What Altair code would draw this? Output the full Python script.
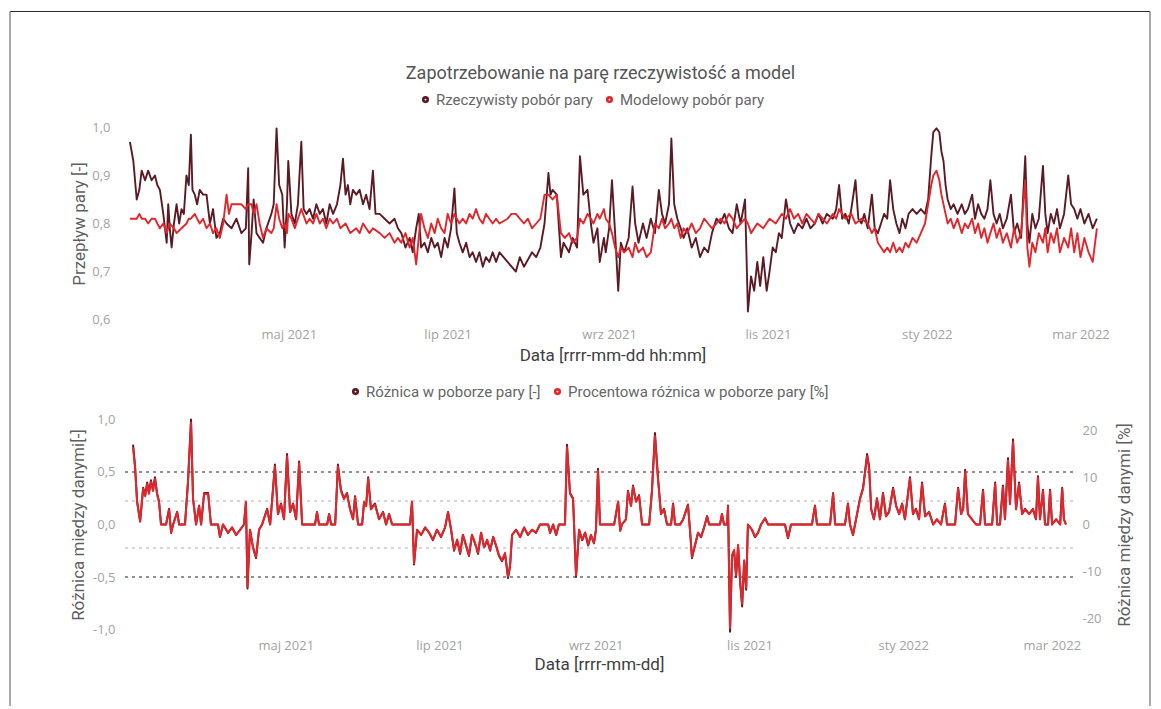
import altair as alt
import pandas as pd

# Time axis: day offsets counted from the first day of the series
START = pd.Timestamp("2021-03-01")

ACT = "Rzeczywisty pobór pary"
MOD = "Modelowy pobór pary"
DIFF = "Różnica w poborze pary [-]"
PCT = "Procentowa różnica w poborze pary [%]"

DARK = "#5c1b24"
RED = "#e3262b"

# ---------------- top panel: measured steam demand ----------------
act_days = [
    0, 1.3, 2.6, 3.6, 4.5, 5.8, 7, 8.3, 9.6, 10.5,
    11.5, 12.8, 14.1, 14.7, 15.3, 16, 16.9, 17.9, 18.9, 19.8,
    20.7, 21.7, 22.6, 23.4, 24, 24.9, 25.8, 26.8, 28.1, 29.4,
    30.7, 31.9, 33.2, 34.5, 35.8, 37.1, 39, 40.9, 42.8, 44.5,
    45.4, 45.8, 46.7, 47.5, 48.6, 49.8, 51.1, 52.4, 54.3, 55.2,
    56.3, 57.3, 58.5, 59.4, 60.3, 60.8, 62, 63.3, 64.5, 65.8,
    66.7, 67.8, 69, 70.3, 71.6, 72.9, 74.1, 75.4, 76.7, 78,
    79.5, 80.8, 81.8, 82.8, 83.7, 84.6, 85.6, 86.9, 88.2, 89.5,
    90.7, 92, 93.3, 94.3, 95.9, 97.8, 99.7, 101.6, 102.9, 104.2,
    105.8, 107.4, 108.6, 109.9, 110.9, 111.8, 113.1, 114.4, 115.7, 117,
    118.2, 119.5, 120.8, 122, 123.3, 124.6, 125.5, 126.5, 127.8, 129.1,
    130.4, 131.6, 132.9, 134.2, 135.5, 136.7, 138, 139.3, 140.6, 141.9,
    145, 148.2, 149.7, 151.3, 154.4, 156, 157.6, 159.2, 160.7, 161.5,
    162.3, 163.9, 165.5, 166.5, 168.6, 170, 171.7, 172.8, 174.1, 175.7,
    177, 178, 179.5, 180.4, 182, 182.7, 184, 185.1, 186.3, 187.5,
    188.5, 189.8, 191.5, 193, 194, 195.3, 197, 198.4, 200, 201.6,
    203.1, 204.3, 205.5, 207, 207.9, 209, 210.2, 211.5, 212.6, 214,
    215.7, 217.3, 218.9, 220.5, 222, 223.5, 225.2, 226.8, 228.3, 230,
    231.4, 233, 234.5, 236.2, 237.3, 238.5, 239.7, 240.9, 242, 243.2,
    244.5, 245.6, 246.8, 248, 249.2, 250.3, 251.9, 253.5, 255, 256.6,
    258.2, 259.8, 261.3, 263, 264.4, 266, 267.6, 269.9, 271.2, 272.3,
    273.5, 274.7, 276, 277, 278.6, 279.7, 280.9, 282, 283.3, 284.9,
    286, 287.2, 288.4, 289.6, 290.8, 291.9, 293.1, 294.3, 295.5, 296.6,
    297.8, 299, 300.5, 302.1, 303.7, 305.3, 306.5, 307.7, 308.5, 309.7,
    310.8, 311.6, 312.4, 313.2, 314, 315.2, 316.3, 317.8, 319.4, 320.6,
    321.8, 323.4, 324.5, 325.7, 326.9, 328.1, 329.3, 330.4, 331.6, 332.8,
    334, 335.2, 336.7, 338.3, 339.5, 340.7, 342.2, 343.8, 344.6, 345.4,
    346.5, 347.7, 349, 350.6, 351.5, 352.4, 353.6, 354.8, 356, 357.1,
    358.7, 360.3, 361.4, 362.6, 363.8, 365, 366.5, 368.1, 369.7, 371.3,
]
act_vals = [
    0.97, 0.93, 0.85, 0.87, 0.91, 0.89, 0.91, 0.89, 0.90, 0.88,
    0.87, 0.82, 0.76, 0.84, 0.79, 0.75, 0.80, 0.84, 0.80, 0.83,
    0.82, 0.90, 0.88, 0.985, 0.87, 0.86, 0.84, 0.87, 0.86, 0.86,
    0.80, 0.83, 0.77, 0.78, 0.81, 0.80, 0.79, 0.81, 0.78, 0.79,
    0.915, 0.715, 0.78, 0.85, 0.78, 0.77, 0.76, 0.79, 0.82, 0.84,
    0.998, 0.88, 0.86, 0.75, 0.84, 0.93, 0.82, 0.80, 0.84, 0.97,
    0.83, 0.82, 0.83, 0.81, 0.84, 0.82, 0.83, 0.80, 0.84, 0.82,
    0.84, 0.88, 0.935, 0.86, 0.88, 0.84, 0.87, 0.86, 0.87, 0.84,
    0.86, 0.83, 0.91, 0.82, 0.82, 0.81, 0.80, 0.81, 0.79, 0.78,
    0.75, 0.77, 0.74, 0.79, 0.82, 0.75, 0.76, 0.74, 0.77, 0.75,
    0.76, 0.73, 0.77, 0.75, 0.79, 0.873, 0.78, 0.76, 0.74, 0.76,
    0.73, 0.74, 0.72, 0.74, 0.71, 0.73, 0.72, 0.74, 0.72, 0.74,
    0.72, 0.70, 0.73, 0.71, 0.74, 0.73, 0.75, 0.80, 0.905, 0.86,
    0.87, 0.86, 0.73, 0.76, 0.74, 0.77, 0.75, 0.94, 0.86, 0.87,
    0.80, 0.76, 0.79, 0.72, 0.77, 0.74, 0.79, 0.89, 0.78, 0.66,
    0.76, 0.74, 0.77, 0.877, 0.80, 0.76, 0.80, 0.77, 0.81, 0.78,
    0.87, 0.82, 0.80, 0.84, 0.977, 0.84, 0.81, 0.79, 0.77, 0.79,
    0.75, 0.77, 0.73, 0.75, 0.74, 0.78, 0.81, 0.80, 0.82, 0.79,
    0.78, 0.84, 0.80, 0.85, 0.617, 0.69, 0.66, 0.72, 0.67, 0.73,
    0.66, 0.70, 0.75, 0.74, 0.78, 0.77, 0.85, 0.80, 0.78, 0.80,
    0.79, 0.81, 0.79, 0.80, 0.82, 0.80, 0.82, 0.81, 0.83, 0.88,
    0.81, 0.82, 0.80, 0.83, 0.89, 0.81, 0.80, 0.82, 0.79, 0.86,
    0.79, 0.78, 0.80, 0.82, 0.81, 0.89, 0.83, 0.80, 0.78, 0.81,
    0.79, 0.82, 0.83, 0.82, 0.83, 0.82, 0.85, 0.94, 0.99, 0.998,
    0.99, 0.95, 0.93, 0.88, 0.85, 0.83, 0.84, 0.82, 0.84, 0.82,
    0.83, 0.86, 0.81, 0.84, 0.82, 0.81, 0.83, 0.89, 0.82, 0.80,
    0.82, 0.79, 0.81, 0.86, 0.78, 0.80, 0.77, 0.94, 0.80, 0.76,
    0.82, 0.79, 0.81, 0.92, 0.82, 0.78, 0.82, 0.80, 0.83, 0.79,
    0.82, 0.90, 0.84, 0.83, 0.81, 0.83, 0.80, 0.82, 0.79, 0.81,
]

# ---------------- top panel: model steam demand ----------------
mod_days = [
    0, 1.3, 2.6, 3.6, 4.5, 5.8, 7, 8.3, 9.6, 10.5,
    11.5, 12.8, 14.1, 15.3, 16.9, 17.9, 19.8, 21.7, 22.6, 23.4,
    24.9, 25.8, 26.8, 28.1, 29.4, 30.7, 31.9, 33.2, 34.5, 35.8,
    37.1, 38, 39, 40.9, 42.8, 44.5, 45.4, 46.7, 47.5, 48.6,
    49.8, 51.1, 52.4, 54.3, 55.2, 56.3, 57.3, 58.5, 59.4, 60.3,
    60.8, 62, 63.3, 64.5, 65.8, 67.8, 69, 70.3, 71.6, 72.9,
    74.1, 75.4, 76.7, 78, 79.5, 80.8, 82.8, 84.6, 86.9, 88.2,
    89.5, 90.7, 92, 93.3, 95.9, 97.8, 99.7, 101.6, 102.9, 104.2,
    105.8, 107.4, 108.6, 109.9, 110.9, 111.8, 113.1, 114.4, 115.7, 117,
    118.2, 119.5, 120.8, 122, 123.3, 124.6, 126.5, 127.8, 129.1, 130.4,
    131.6, 132.9, 134.2, 135.5, 136.7, 138, 139.3, 140.6, 141.9, 145,
    146.5, 148.2, 149.7, 151.3, 152.8, 154.4, 156, 157.6, 159.2, 160.7,
    162.3, 163.9, 165.5, 167, 168.6, 170, 171.7, 172.8, 174.1, 175.7,
    177, 178, 179.5, 180.4, 182, 182.7, 184, 185.1, 186.3, 187.5,
    188.5, 189.8, 191.5, 193, 194, 195.3, 197, 198.4, 200, 201.6,
    203.1, 204.3, 205.5, 207, 207.9, 209, 210.2, 211.5, 212.6, 214,
    215.7, 217.3, 218.9, 220.5, 222, 223.5, 225.2, 226.8, 228.3, 230,
    231.4, 233, 234.5, 236.2, 237.3, 238.5, 240.9, 243.2, 245.6, 248,
    250.3, 251.9, 253.5, 255, 256.6, 258.2, 259.8, 261.3, 263, 264.4,
    266, 267.6, 269.9, 271.2, 272.3, 274.7, 277, 278.6, 280.9, 283.3,
    284.9, 286, 287.2, 288.4, 289.6, 290.8, 291.9, 293.1, 294.3, 295.5,
    296.6, 297.8, 299, 300.5, 302.1, 303.7, 305.3, 306.5, 307.7, 308.5,
    309.7, 310.8, 311.6, 312.4, 313.2, 314, 315.2, 316.3, 317.8, 319.4,
    320.6, 321.8, 323.4, 324.5, 325.7, 326.9, 328.1, 329.3, 330.4, 331.6,
    332.8, 334, 335.2, 336.7, 338.3, 339.5, 340.7, 342.2, 343.8, 344.6,
    345.4, 346.5, 347.7, 349, 350.6, 351.5, 352.4, 353.6, 354.8, 356,
    357.1, 358.7, 360.3, 361.4, 362.6, 363.8, 365, 366.5, 368.1, 369.7,
    371.3,
]
mod_vals = [
    0.81, 0.81, 0.81, 0.82, 0.81, 0.81, 0.80, 0.81, 0.81, 0.80,
    0.79, 0.80, 0.78, 0.80, 0.79, 0.78, 0.79, 0.80, 0.81, 0.81,
    0.82, 0.81, 0.80, 0.81, 0.79, 0.80, 0.78, 0.79, 0.77, 0.80,
    0.86, 0.82, 0.84, 0.84, 0.84, 0.83, 0.84, 0.84, 0.82, 0.84,
    0.80, 0.77, 0.79, 0.78, 0.79, 0.84, 0.81, 0.79, 0.80, 0.78,
    0.82, 0.81, 0.79, 0.81, 0.83, 0.80, 0.81, 0.80, 0.82, 0.80,
    0.81, 0.79, 0.81, 0.80, 0.81, 0.79, 0.80, 0.78, 0.79, 0.78,
    0.80, 0.79, 0.78, 0.79, 0.78, 0.77, 0.78, 0.76, 0.77, 0.76,
    0.78, 0.75, 0.77, 0.715, 0.77, 0.82, 0.79, 0.77, 0.80, 0.78,
    0.81, 0.79, 0.78, 0.82, 0.80, 0.82, 0.80, 0.81, 0.80, 0.82,
    0.81, 0.83, 0.81, 0.80, 0.82, 0.81, 0.80, 0.81, 0.80, 0.81,
    0.82, 0.82, 0.81, 0.80, 0.81, 0.79, 0.80, 0.81, 0.86, 0.86,
    0.85, 0.86, 0.78, 0.77, 0.78, 0.76, 0.77, 0.81, 0.80, 0.82,
    0.81, 0.80, 0.82, 0.81, 0.83, 0.81, 0.80, 0.78, 0.75, 0.73,
    0.75, 0.74, 0.75, 0.73, 0.76, 0.74, 0.75, 0.73, 0.74, 0.80,
    0.79, 0.81, 0.79, 0.80, 0.81, 0.79, 0.80, 0.77, 0.79, 0.78,
    0.80, 0.78, 0.79, 0.81, 0.80, 0.79, 0.80, 0.81, 0.80, 0.82,
    0.81, 0.79, 0.80, 0.81, 0.80, 0.78, 0.80, 0.79, 0.81, 0.80,
    0.82, 0.81, 0.83, 0.81, 0.82, 0.80, 0.82, 0.81, 0.80, 0.82,
    0.81, 0.80, 0.82, 0.81, 0.83, 0.81, 0.82, 0.80, 0.81, 0.80,
    0.78, 0.79, 0.76, 0.75, 0.74, 0.75, 0.74, 0.76, 0.74, 0.75,
    0.74, 0.76, 0.75, 0.77, 0.76, 0.78, 0.80, 0.84, 0.88, 0.90,
    0.91, 0.89, 0.86, 0.84, 0.82, 0.80, 0.81, 0.79, 0.81, 0.78,
    0.80, 0.79, 0.81, 0.78, 0.80, 0.77, 0.79, 0.76, 0.78, 0.80,
    0.77, 0.79, 0.76, 0.78, 0.75, 0.79, 0.76, 0.78, 0.89, 0.75,
    0.71, 0.76, 0.74, 0.78, 0.76, 0.79, 0.74, 0.78, 0.76, 0.79,
    0.74, 0.77, 0.75, 0.79, 0.74, 0.78, 0.73, 0.77, 0.74, 0.72,
    0.79,
]

# ---------------- bottom panel: differences between the series ----------------
diff_days = [
    0.4, 1.2, 2, 3.2, 4.4, 5.2, 6, 6.7, 7.5, 8.3,
    9.1, 9.9, 10.7, 11.5, 13.5, 14.7, 15.5, 16.3, 17.9, 18.7,
    21, 22.2, 23.4, 24.2, 25.4, 26.6, 27.4, 28.6, 30.2, 31.3,
    34.1, 34.9, 36.1, 38.1, 39.7, 41.3, 42.9, 44.4, 45.2, 45.8,
    46.8, 48, 49.2, 50.4, 51.6, 53.6, 54.8, 56.7, 57.9, 59.1,
    60.3, 61.5, 62.7, 63.9, 65.1, 66.3, 67.5, 72.6, 73.4, 74.2,
    77.4, 78.2, 79, 80.6, 81.7, 82.9, 84.1, 85.3, 86.5, 87.7,
    88.5, 89.7, 91.3, 92.1, 92.9, 93.7, 94.8, 96.4, 98, 99.6,
    100.8, 102, 103.2, 110.3, 111.1, 111.9, 113.1, 114.7, 116.3, 117.9,
    119.4, 121, 122.6, 124.2, 125.4, 126.6, 127.8, 129, 130.2, 131.3,
    132.5, 133.7, 134.9, 136.1, 137.3, 138.5, 139.7, 140.9, 142.1, 143.3,
    144.4, 145.6, 146.8, 148, 149.2, 150, 150.8, 152.4, 154, 155.6,
    157.1, 158.7, 160.3, 161.9, 165.1, 165.9, 167.1, 168.3, 169.4, 171.8,
    172.6, 173.8, 175, 176.2, 177.4, 178.6, 179.8, 181, 182.1, 183.3,
    184.1, 184.9, 185.7, 191.3, 192.9, 193.7, 194.4, 196, 196.8, 198,
    198.8, 200, 201.2, 202.4, 205.2, 206.3, 207.5, 208.7, 209.9, 211.1,
    212.3, 213.9, 214.7, 215.5, 217.5, 218.7, 220.6, 221.4, 222.2, 223.4,
    224.6, 225.8, 227, 228.2, 229, 233.3, 234.1, 234.9, 236.1, 236.5,
    237.3, 238.1, 238.9, 239.7, 240.5, 241.3, 242.1, 242.9, 243.7, 244.4,
    246, 247.2, 248.4, 249.6, 251.2, 252.4, 259.1, 260.3, 261.5, 269.8,
    271, 271.8, 277, 278.2, 279, 282.9, 284.1, 284.9, 286.1, 287.3,
    288.9, 290.1, 291.7, 292.5, 293.3, 294.4, 295.6, 296.8, 298, 299.2,
    300.4, 302, 303.2, 304.4, 305.6, 306.7, 308.7, 309.9, 311.1, 312.3,
    313.5, 314.7, 316.3, 317.9, 319.4, 321, 322.6, 323.4, 326.6, 327.8,
    329, 329.8, 330.6, 331.7, 333.3, 334.9, 336.5, 337.7, 338.5, 341.3,
    342.5, 343.3, 344.4, 345.6, 346.4, 347.6, 348.4, 349.6, 350.8, 352,
    353.2, 354.4, 356, 357.5, 358.7, 359.5, 360.3, 361.5, 362.3, 363.5,
    364.3, 365.1, 366.7, 368.3, 369.1, 369.8, 370.6,
]
diff_vals = [
    0.76, 0.55, 0.22, 0.03, 0.35, 0.28, 0.40, 0.30, 0.42, 0.33,
    0.45, 0.30, 0.22, 0, 0, 0.15, -0.08, 0, 0.12, 0,
    0, 0.41, 1.0, 0.25, 0, 0.18, 0, 0.30, 0.30, 0,
    0, -0.12, 0, -0.08, -0.03, -0.10, -0.05, 0, 0.22, -0.61,
    -0.05, -0.22, -0.32, -0.05, 0, 0.15, 0, 0.57, 0.10, 0.20,
    0.05, 0.67, 0.12, 0.20, 0.05, 0.60, 0, 0, 0.12, 0,
    0, 0.10, 0, 0, 0.57, 0.33, 0.25, 0.30, 0.15, 0.05,
    0.27, 0, 0, 0.22, 0.18, 0.45, 0.15, 0.20, 0.05, 0.12,
    0, 0.10, 0, 0, 0.22, -0.38, -0.05, -0.10, -0.03, -0.08,
    -0.15, -0.05, -0.12, -0.03, 0.12, -0.05, -0.25, -0.15, -0.28, -0.10,
    -0.20, -0.30, -0.10, -0.18, -0.28, -0.08, -0.22, -0.15, -0.25, -0.12,
    -0.20, -0.30, -0.35, -0.28, -0.51, -0.40, -0.10, -0.05, -0.12, -0.03,
    -0.10, -0.05, -0.08, 0, 0, -0.08, 0, -0.10, 0, 0,
    0.76, 0.30, 0.25, -0.50, -0.05, -0.15, -0.08, -0.20, -0.10, -0.18,
    -0.05, 0.53, 0, 0, 0.22, -0.06, 0, 0.05, 0.32, 0.18,
    0.37, 0.22, 0.28, 0, 0, 0.32, 0.87, 0.45, 0.10, 0.15,
    0, 0, 0.20, 0, 0, 0.05, 0.19, -0.05, -0.32, -0.20,
    -0.08, -0.12, -0.03, 0.08, 0, 0, 0.10, 0, 0, 0.18,
    -1.02, -0.30, -0.25, -0.50, -0.20, -0.55, -0.78, -0.35, -0.62, 0,
    -0.05, -0.12, -0.08, 0, 0.06, 0, 0, -0.13, 0, 0,
    0.18, 0, 0, 0.30, 0, 0, 0.20, 0, -0.10, 0.05,
    0.25, 0.35, 0.67, 0.55, 0.15, 0.05, 0.25, 0.05, 0.30, 0.08,
    0.12, 0.35, 0.18, 0.10, 0.20, 0.05, 0.45, 0.10, 0.15, 0.05,
    0.40, 0.08, 0.12, 0, 0.05, 0, 0.20, 0, 0, 0.35,
    0.10, 0.15, 0.52, 0.10, 0.05, 0, 0, 0.33, 0, 0,
    0.40, 0, 0, 0.37, 0.05, 0.63, 0.20, 0.81, 0.15, 0.40,
    0.10, 0.15, 0.10, 0.15, 0.05, 0.46, 0.05, 0.33, 0, 0,
    0.33, 0, 0.05, 0, 0.35, 0.05, 0,
]
diff_pct = [
    16.4, 11.9, 4.8, 0.6, 7.6, 6.0, 8.6, 6.5, 9.1, 7.1,
    9.7, 6.5, 4.8, 0, 0, 3.2, -1.7, 0, 2.6, 0,
    0, 8.9, 21.6, 5.4, 0, 3.9, 0, 6.5, 6.5, 0,
    0, -2.6, 0, -1.7, -0.6, -2.2, -1.1, 0, 4.8, -13.2,
    -1.1, -4.8, -6.9, -1.1, 0, 3.2, 0, 12.3, 2.2, 4.3,
    1.1, 14.5, 2.6, 4.3, 1.1, 13.0, 0, 0, 2.6, 0,
    0, 2.2, 0, 0, 12.3, 7.1, 5.4, 6.5, 3.2, 1.1,
    5.8, 0, 0, 4.8, 3.9, 9.7, 3.2, 4.3, 1.1, 2.6,
    0, 2.2, 0, 0, 4.8, -8.2, -1.1, -2.2, -0.6, -1.7,
    -3.2, -1.1, -2.6, -0.6, 2.6, -1.1, -5.4, -3.2, -6.0, -2.2,
    -4.3, -6.5, -2.2, -3.9, -6.0, -1.7, -4.8, -3.2, -5.4, -2.6,
    -4.3, -6.5, -7.6, -6.0, -11.0, -8.6, -2.2, -1.1, -2.6, -0.6,
    -2.2, -1.1, -1.7, 0, 0, -1.7, 0, -2.2, 0, 0,
    16.4, 6.5, 5.4, -10.8, -1.1, -3.2, -1.7, -4.3, -2.2, -3.9,
    -1.1, 11.4, 0, 0, 4.8, -1.3, 0, 1.1, 6.9, 3.9,
    8.0, 4.8, 6.0, 0, 0, 6.9, 18.8, 9.7, 2.2, 3.2,
    0, 0, 4.3, 0, 0, 1.1, 4.1, -1.1, -6.9, -4.3,
    -1.7, -2.6, -0.6, 1.7, 0, 0, 2.2, 0, 0, 3.9,
    -22.0, -6.5, -5.4, -10.8, -4.3, -11.9, -16.8, -7.6, -13.4, 0,
    -1.1, -2.6, -1.7, 0, 1.3, 0, 0, -2.8, 0, 0,
    3.9, 0, 0, 6.5, 0, 0, 4.3, 0, -2.2, 1.1,
    5.4, 7.6, 14.5, 11.9, 3.2, 1.1, 5.4, 1.1, 6.5, 1.7,
    2.6, 7.6, 3.9, 2.2, 4.3, 1.1, 9.7, 2.2, 3.2, 1.1,
    8.6, 1.7, 2.6, 0, 1.1, 0, 4.3, 0, 0, 7.6,
    2.2, 3.2, 11.2, 2.2, 1.1, 0, 0, 7.1, 0, 0,
    8.6, 0, 0, 8.0, 1.1, 13.6, 4.3, 17.5, 3.2, 8.6,
    2.2, 3.2, 2.2, 3.2, 1.1, 9.9, 1.1, 7.1, 0, 0,
    7.1, 0, 1.1, 0, 7.6, 1.1, 0,
]

# reference levels drawn as dashed lines in the bottom panel
ref_abs = [0.5, -0.5]      # [-]
ref_pct = [5, -5]          # [%]

# axis ticks
top_ticks = [0.6, 0.7, 0.8, 0.9, 1.0]
abs_ticks = [-1.0, -0.5, 0.0, 0.5, 1.0]
pct_ticks = [-20, -10, 0, 10, 20]
tick_months = [(2021, 5), (2021, 7), (2021, 9), (2021, 11), (2022, 1), (2022, 3)]
month_pl = ["sty", "lut", "mar", "kwi", "maj", "cze", "lip", "sie", "wrz", "paź", "lis", "gru"]

assert len(act_days) == len(act_vals)
assert len(mod_days) == len(mod_vals)
assert len(diff_days) == len(diff_vals) == len(diff_pct)


def to_dates(days):
    return START + pd.to_timedelta(days, unit="D")


def dt(day):
    t = START + pd.Timedelta(days=day)
    return alt.DateTime(year=t.year, month=t.month, date=t.day,
                        hours=t.hour, minutes=t.minute)


MONTH_EXPR = ("[" + ",".join("'%s'" % m for m in month_pl) + "][month(datum.value)]"
              " + ' ' + year(datum.value)")
DEC_EXPR = ("(datum.value < 0 ? '-' : '') + "
            "replace(format(abs(datum.value), '.1f'), '.', ',')")
INT_EXPR = "(datum.value < 0 ? '-' : '') + format(abs(datum.value), 'd')"
tick_dates = [alt.DateTime(year=y, month=m, date=1) for y, m in tick_months]

# layout (pixels)
TOP_W, TOP_H = 975, 197
BOT_W, BOT_H = 948, 227
GAP = 89

LABEL_FONT = "Open Sans"
TITLE_FONT = "Roboto"


def legend(x, y):
    return alt.Legend(title=None, orient="none", legendX=x, legendY=y,
                      direction="horizontal", symbolType="circle",
                      symbolSize=7, symbolStrokeWidth=4.5,
                      labelFont=TITLE_FONT, labelFontSize=15, labelColor="#666666",
                      labelOffset=3, columnPadding=6, labelLimit=500)


def x_axis(title, domain, label_pad, title_y):
    return alt.X("date:T", title=title,
                 scale=alt.Scale(domain=[dt(domain[0]), dt(domain[1])]),
                 axis=alt.Axis(values=tick_dates, labelExpr=MONTH_EXPR,
                               labelPadding=label_pad, labelFlush=False,
                               labelOverlap=False, titleY=title_y,
                               titleBaseline="middle", titleColor="#404040"))


# ---------------- top chart ----------------
act_df = pd.DataFrame({"date": to_dates(act_days), "value": act_vals, "series": ACT})
mod_df = pd.DataFrame({"date": to_dates(mod_days), "value": mod_vals, "series": MOD})

top_color = alt.Color("series:N", scale=alt.Scale(domain=[ACT, MOD], range=[DARK, RED]),
                      legend=legend(293, -33))
top_x = x_axis("Data [rrrr-mm-dd hh:mm]", (-1.9, 372.5), 6, 33)
top_y = alt.Y("value:Q", title="Przepływ pary [-]",
              scale=alt.Scale(domain=[0.595, 1.005], nice=False, zero=False),
              axis=alt.Axis(values=top_ticks, labelExpr=DEC_EXPR, labelPadding=15,
                            titleX=-46, titleY=TOP_H / 2, titleAngle=270,
                            titleAlign="center", titleBaseline="middle"))

top_line = dict(strokeWidth=1.9, strokeJoin="round")
top = alt.layer(
    alt.Chart(act_df).mark_line(**top_line).encode(x=top_x, y=top_y, color=top_color),
    alt.Chart(mod_df).mark_line(**top_line).encode(x=top_x, y=top_y, color=top_color),
).properties(
    width=TOP_W, height=TOP_H,
    title=alt.TitleParams("Zapotrzebowanie na parę rzeczywistość a model",
                          anchor="middle", dx=-12, offset=9, font=TITLE_FONT,
                          fontSize=18, fontWeight="normal", color="#555555"),
)

# ---------------- bottom chart ----------------
abs_df = pd.DataFrame({"date": to_dates(diff_days), "value": diff_vals, "series": DIFF})
pct_df = pd.DataFrame({"date": to_dates(diff_days), "value": diff_pct, "series": PCT})

bot_color = alt.Color("series:N", scale=alt.Scale(domain=[DIFF, PCT], range=[DARK, RED]),
                      legend=legend(223, -27))
bot_x = x_axis("Data [rrrr-mm-dd]", (-2.8, 373.4), 1, 26)
abs_y = alt.Y("value:Q", title="Różnica między danymi[-]",
              scale=alt.Scale(domain=[-1.08, 1.08], nice=False),
              axis=alt.Axis(orient="left", values=abs_ticks, labelExpr=DEC_EXPR,
                            labelPadding=10, titleX=-47, titleY=BOT_H / 2,
                            titleAngle=270, titleAlign="center", titleBaseline="middle"))
pct_y = alt.Y("value:Q", title="Różnica między danymi [%]",
              scale=alt.Scale(domain=[-24.1, 24.1], nice=False),
              axis=alt.Axis(orient="right", values=pct_ticks, labelExpr=INT_EXPR,
                            labelPadding=9, titleX=51, titleY=BOT_H / 2,
                            titleAngle=270, titleAlign="center", titleBaseline="middle"))

abs_rules = alt.Chart(pd.DataFrame({"value": ref_abs})).mark_rule(
    color="#6e6e6e", strokeWidth=1.5, strokeDash=[3, 4]).encode(y=abs_y)
pct_rules = alt.Chart(pd.DataFrame({"value": ref_pct})).mark_rule(
    color="#c9c9cf", strokeWidth=1.5, strokeDash=[3, 4]).encode(y=pct_y)

bot_line = dict(strokeWidth=2, strokeJoin="round")
left_part = alt.layer(
    abs_rules,
    alt.Chart(abs_df).mark_line(**bot_line).encode(x=bot_x, y=abs_y, color=bot_color),
)
right_part = alt.layer(
    pct_rules,
    alt.Chart(pct_df).mark_line(**bot_line).encode(x=bot_x, y=pct_y, color=bot_color),
)

# thin frame around the whole figure (pixel offsets from the bottom plot origin)
one = pd.DataFrame({"k": [0]})
frame = [
    alt.Chart(one).mark_rule(color="#2b2b2b", strokeWidth=1).encode(
        x=alt.value(-115), x2=alt.value(1025), y=alt.value(-399.5)),
    alt.Chart(one).mark_rule(color="#8a8a8a", strokeWidth=1.5).encode(
        x=alt.value(-115), y=alt.value(-399.5), y2=alt.value(295)),
    alt.Chart(one).mark_rule(color="#8a8a8a", strokeWidth=1.5).encode(
        x=alt.value(1025), y=alt.value(-399.5), y2=alt.value(295)),
]

bottom = alt.layer(left_part, right_part, *frame).resolve_scale(
    y="independent").properties(width=BOT_W, height=BOT_H)

chart = alt.vconcat(top, bottom, spacing=GAP, bounds="flush").resolve_scale(
    color="independent"
).properties(
    padding={"left": 9, "top": 10, "right": 0, "bottom": 0},
).configure_view(stroke=None).configure_axis(
    grid=False, domain=False, ticks=False,
    labelFont=LABEL_FONT, labelFontSize=13, labelColor="#a3a3a3",
    titleFont=TITLE_FONT, titleFontSize=17, titleFontWeight="normal",
    titleColor="#5f5f5f",
)

chart.save("out.html", embed_options={"renderer": "svg", "actions": False})
